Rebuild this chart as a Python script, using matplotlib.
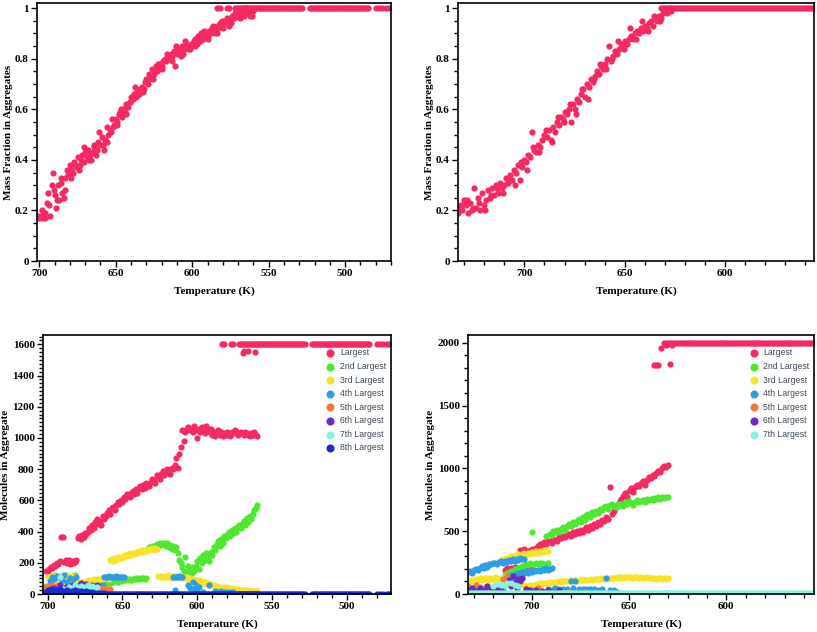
import matplotlib
matplotlib.use('Agg')
import matplotlib.pyplot as plt
from matplotlib.ticker import MultipleLocator, FuncFormatter

plt.rcParams['font.family'] = 'Liberation Serif'
plt.rcParams['font.weight'] = 'bold'
plt.rcParams['axes.labelweight'] = 'bold'

# цвета серий
c_largest = '#f52a60'
c_2nd = '#4de82f'
c_3rd = '#f9e326'
c_4th = '#2f9de6'
c_5th = '#f47a3a'
c_6th = '#6a2cbf'
c_7th = '#88f4de'
c_8th = '#1a2ccf'

# ---------------- симуляция 1 (1600 молекул) ----------------
sim1_temp = [
    701, 700, 699, 698, 697, 696, 695, 694, 693, 692,
    691, 690, 689, 688, 687, 686, 685, 684, 683, 682,
    681, 680, 679, 678, 677, 676, 675, 674, 673, 672,
    671, 670, 669, 668, 667, 666, 665, 664, 663, 662,
    661, 660, 659, 658, 657, 656, 655, 654, 653, 652,
    651, 650, 649, 648, 647, 646, 645, 644, 643, 642,
    641, 640, 639, 638, 637, 636, 635, 634, 633, 632,
    631, 630, 629, 628, 627, 626, 625, 624, 623, 622,
    621, 620, 619, 618, 617, 616, 615, 614, 613, 612,
    611, 610, 609, 608, 607, 606, 605, 604, 603, 602,
    601, 600, 599, 598, 597, 596, 595, 594, 593, 592,
    591, 590, 589, 588, 587, 586, 585, 584, 583, 582,
    581, 580, 579, 578, 577, 576, 575, 574, 573, 572,
    571, 570, 569, 568, 567, 566, 565, 564, 563, 562,
    561, 560]

sim1_sat_temp = [
    583.5, 582, 577.5, 576,
    572, 571, 570, 569, 568, 567, 566, 565, 564, 563,
    562, 561, 560, 559, 558, 557, 556, 555, 554, 553,
    552, 551, 550, 549, 548, 547, 546, 545, 544, 543,
    542, 541, 540, 539, 538, 537, 536, 535, 534, 533,
    532, 531, 530, 529, 528,
    523, 522, 521, 520, 519, 518, 517, 516, 515, 514,
    513, 512, 511, 510, 509, 508, 507, 506, 505, 504,
    503, 502, 501, 500, 499, 498, 497, 496, 495, 494,
    493, 492, 491, 490, 489, 488, 487, 486, 485,
    480, 478, 476, 473, 471.5]

tl_frac = [
    0.18, 0.17, 0.18, 0.17, 0.19, 0.17, 0.23, 0.27, 0.18, 0.30,
    0.35, 0.26, 0.21, 0.30, 0.24, 0.33, 0.27, 0.25, 0.28, 0.36,
    0.34, 0.38, 0.36, 0.35, 0.39, 0.37, 0.41, 0.36, 0.40, 0.42,
    0.39, 0.43, 0.41, 0.44, 0.42, 0.40, 0.43, 0.45, 0.42, 0.44,
    0.51, 0.46, 0.49, 0.44, 0.48, 0.47, 0.50, 0.52, 0.51, 0.53,
    0.54, 0.56, 0.55, 0.58, 0.59, 0.57, 0.60, 0.59, 0.62, 0.61,
    0.63, 0.65, 0.64, 0.66, 0.65, 0.67, 0.66, 0.68, 0.69, 0.67,
    0.71, 0.72, 0.70, 0.74, 0.73, 0.76, 0.74, 0.77, 0.75, 0.76,
    0.78, 0.77, 0.79, 0.80, 0.79, 0.81, 0.80, 0.82, 0.81, 0.83,
    0.77, 0.82, 0.84, 0.83, 0.85, 0.82, 0.84, 0.86, 0.85, 0.84,
    0.86, 0.85, 0.87, 0.88, 0.86, 0.89, 0.87, 0.90, 0.88, 0.89,
    0.90, 0.89, 0.91, 0.90, 0.92, 0.91, 0.90, 0.93, 0.92, 0.94,
    0.93, 0.92, 0.95, 0.94, 0.96, 0.93, 0.95, 0.97, 0.96, 0.98,
    0.97, 0.99, 0.96, 0.98, 0.99, 0.97, 0.98, 1.00, 0.99, 0.98,
    0.97, 0.99]

# дополнительные точки (разброс полосы)
tl_extra_temp = [698.5, 696.5, 693.5, 690.5, 688.5, 685.5, 683.5, 679.5, 676.5, 673.5,
                 670.5, 667.5, 664.5, 661.5, 658.5, 655.5, 652.5, 649.5, 646.5, 643.5,
                 640.5, 637.5, 634.5, 631.5, 628.5, 625.5, 622.5, 619.5, 616.5, 613.5,
                 610.5, 607.5, 604.5, 601.5, 598.5, 595.5, 592.5, 589.5, 586.5, 583.5,
                 580.5, 577.5, 574.5, 571.5, 568.5, 565.5, 562.5]
tl_extra_frac = [0.20, 0.19, 0.22, 0.28, 0.24, 0.31, 0.33, 0.33, 0.38, 0.38,
                 0.45, 0.40, 0.46, 0.47, 0.46, 0.53, 0.56, 0.54, 0.60, 0.58,
                 0.63, 0.69, 0.66, 0.68, 0.72, 0.72, 0.78, 0.76, 0.82, 0.79,
                 0.85, 0.81, 0.87, 0.84, 0.85, 0.88, 0.91, 0.88, 0.93, 0.90,
                 0.95, 0.94, 0.94, 0.98, 0.97, 1.00, 0.97]

tl_sat_frac = [
    1, 1, 1, 1,
    1, 1, 1, 1, 1, 1, 1, 1, 1, 1,
    1, 1, 1, 1, 1, 1, 1, 1, 1, 1,
    1, 1, 1, 1, 1, 1, 1, 1, 1, 1,
    1, 1, 1, 1, 1, 1, 1, 1, 1, 1,
    1, 1, 1, 1, 1,
    1, 1, 1, 1, 1, 1, 1, 1, 1, 1,
    1, 1, 1, 1, 1, 1, 1, 1, 1, 1,
    1, 1, 1, 1, 1, 1, 1, 1, 1, 1,
    1, 1, 1, 1, 1, 1, 1, 1, 1,
    1, 1, 1, 1, 1]

bl_largest = [
    150, 145, 160, 170, 165, 185, 180, 200, 195, 210,
    365, 368, 205, 220, 200, 215, 190, 210, 200, 205,
    220, 360, 370, 355, 380, 365, 390, 385, 400, 420,
    410, 440, 420, 460, 480, 450, 470, 440, 500, 480,
    500, 520, 540, 510, 550, 560, 540, 570, 590, 580,
    600, 590, 620, 610, 640, 630, 620, 650, 660, 640,
    670, 650, 680, 690, 670, 700, 680, 710, 700, 690,
    720, 740, 730, 710, 760, 750, 740, 770, 790, 760,
    780, 800, 790, 770, 810, 800, 830, 870, 810, 900,
    940, 1050, 980, 1040, 1060, 1070, 1050, 1060, 1040, 1080,
    1050, 1000, 1060, 1040, 1070, 1050, 1030, 1080, 1060, 1040,
    1060, 1020, 1040, 1010, 1030, 1050, 1020, 1040, 1010, 1030,
    1020, 1040, 1030, 1010, 1040, 1030, 1050, 1040, 1020, 1030,
    1040, 1030, 1020, 1040, 1030, 1020, 1010, 1030, 1020, 1040,
    1020, 1015]

bl_sat_largest = [
    1600, 1600, 1600, 1600,
    1600, 1600, 1600, 1600, 1600, 1600, 1600, 1600, 1600, 1600,
    1600, 1600, 1600, 1600, 1600, 1600, 1600, 1600, 1600, 1600,
    1600, 1600, 1600, 1600, 1600, 1600, 1600, 1600, 1600, 1600,
    1600, 1600, 1600, 1600, 1600, 1600, 1600, 1600, 1600, 1600,
    1600, 1600, 1600, 1600, 1600,
    1600, 1600, 1600, 1600, 1600, 1600, 1600, 1600, 1600, 1600,
    1600, 1600, 1600, 1600, 1600, 1600, 1600, 1600, 1600, 1600,
    1600, 1600, 1600, 1600, 1600, 1600, 1600, 1600, 1600, 1600,
    1600, 1600, 1600, 1600, 1600, 1600, 1600, 1600, 1600,
    1600, 1600, 1600, 1600, 1600]

bl_dip_temp = [569.5, 568.5, 566, 561.5]
bl_dip_largest = [1545, 1555, 1560, 1550]

bl_2nd = [
    50, 45, 110, 60, 115, 55, 120, 50, 60, 110,
    55, 105, 60, 120, 65, 110, 55, 115, 60, 120,
    55, 60, 50, 62, 55, 58, 52, 60, 55, 63,
    58, 62, 55, 65, 60, 58, 64, 60, 66, 62,
    68, 70, 75, 72, 80, 78, 82, 85, 80, 88,
    85, 90, 88, 92, 95, 90, 96, 93, 98, 95,
    100, 95, 102, 98, 100, 104, 97, 100, 290, 300,
    295, 305, 310, 300, 320, 310, 325, 315, 330, 320,
    310, 325, 300, 315, 290, 305, 280, 300, 260, 220,
    200, 170, 150, 240, 140, 180, 160, 130, 170, 150,
    180, 210, 160, 230, 200, 250, 220, 260, 240, 210,
    270, 250, 300, 280, 320, 340, 310, 350, 330, 370,
    360, 380, 400, 370, 410, 390, 420, 400, 430, 440,
    420, 450, 470, 440, 490, 460, 500, 480, 510, 540,
    550, 570]

bl_3rd = [
    40, 110, 45, 115, 50, 120, 55, 105, 60, 118,
    50, 112, 55, 120, 60, 100, 65, 115, 70, 110,
    65, 70, 75, 68, 80, 72, 78, 85, 80, 88,
    85, 90, 95, 88, 92, 98, 95, 100, 96, 102,
    100, 105, 98, 215, 225, 210, 230, 220, 235, 228,
    240, 232, 245, 250, 242, 255, 260, 250, 265, 258,
    270, 262, 275, 268, 280, 272, 285, 278, 290, 282,
    288, 292, 285, 295, 290, 115, 108, 118, 112, 110,
    115, 108, 120, 112, 105, 118, 110, 115, 108, 112,
    118, 105, 110, 100, 108, 95, 102, 90, 98, 85,
    92, 80, 88, 75, 82, 70, 78, 65, 72, 60,
    62, 55, 58, 50, 52, 45, 48, 40, 44, 38,
    42, 35, 38, 30, 36, 28, 32, 26, 30, 25,
    28, 22, 26, 20, 24, 22, 18, 22, 20, 18,
    20, 18]

bl_4th_temp = [698.5, 697, 695.5, 694, 692, 690.5, 689, 687, 685, 683,
               681, 679, 677, 675, 673, 671, 669, 667, 665, 663,
               662, 661, 660, 659, 658, 657, 656, 655, 654, 653,
               652, 651, 650, 649, 616, 615, 614, 613, 612, 611,
               610, 614.5, 606, 604.5, 603, 602, 601, 600, 598.5, 596,
               592, 588, 586, 584, 582, 580, 578, 576]
bl_4th = [85, 110, 95, 115, 100, 90, 120, 80, 105, 95,
          110, 60, 45, 55, 40, 50, 35, 45, 50, 55,
          108, 112, 110, 115, 110, 112, 108, 110, 114, 110,
          108, 112, 110, 106, 110, 112, 108, 110, 114, 110,
          108, 25, 60, 40, 75, 30, 55, 20, 45, 15,
          55, 20, 15, 18, 12, 15, 10, 12]

bl_5th_temp = [702, 701, 700, 699, 698, 697, 696, 695, 694, 693,
               692, 690, 688, 686, 684, 682, 680, 678, 676, 674,
               672, 670, 668, 666, 664, 662, 660, 658]
bl_5th = [40, 25, 50, 35, 20, 60, 30, 45, 25, 55,
          110, 35, 40, 25, 50, 30, 45, 35, 55, 40,
          30, 50, 35, 45, 30, 40, 35, 30]

bl_6th_temp = [698, 696, 694, 692, 690, 688, 686, 684, 682, 680,
               678, 676, 674, 672, 670, 668, 667]
bl_6th = [25, 40, 20, 55, 30, 45, 25, 60, 35, 50,
          70, 40, 65, 30, 55, 45, 60]

bl_7th_temp = [694, 692, 690, 688, 686, 684, 682, 680, 679, 678,
               677, 676, 675, 674, 673, 672, 671, 670, 668, 667]
bl_7th = [20, 110, 35, 25, 45, 30, 55, 40, 25, 50,
          35, 20, 45, 30, 55, 40, 25, 50, 30, 45]

bl_8th = [
    10, 25, 5, 30, 15, 20, 8, 25, 12, 30,
    18, 5, 22, 10, 28, 15, 6, 20, 12, 25,
    8, 18, 4, 22, 10, 15, 5, 20, 8, 12,
    4, 10, 3, 8, 2, 6, 3, 5, 2, 4,
    2, 3, 1, 2, 3, 2, 1, 2, 3, 2,
    2, 3, 1, 2, 3, 2, 1, 2, 3, 2,
    2, 3, 1, 2, 3, 2, 1, 2, 3, 2,
    2, 3, 1, 2, 3, 2, 1, 2, 3, 2,
    2, 3, 1, 2, 3, 2, 1, 2, 3, 2,
    2, 3, 1, 2, 3, 2, 1, 2, 3, 2,
    2, 3, 1, 2, 3, 2, 1, 2, 3, 2,
    2, 3, 1, 2, 3, 2, 1, 2, 3, 2,
    2, 3, 1, 2, 3, 2, 1, 2, 3, 2,
    2, 3, 1, 2, 3, 2, 1, 2, 3, 2,
    2, 3]

bl_sat_8th = [
    0, 0, 0, 0,
    0, 0, 0, 0, 0, 0, 0, 0, 0, 0,
    0, 0, 0, 0, 0, 0, 0, 0, 0, 0,
    0, 0, 0, 0, 0, 0, 0, 0, 0, 0,
    0, 0, 0, 0, 0, 0, 0, 0, 0, 0,
    0, 0, 0, 0, 0,
    0, 0, 0, 0, 0, 0, 0, 0, 0, 0,
    0, 0, 0, 0, 0, 0, 0, 0, 0, 0,
    0, 0, 0, 0, 0, 0, 0, 0, 0, 0,
    0, 0, 0, 0, 0, 0, 0, 0, 0,
    0, 0, 0, 0, 0]

# ---------------- симуляция 2 (2000 молекул) ----------------
sim2_temp = [
    733, 732, 731, 730, 729, 728, 727, 726, 725, 724,
    723, 722, 721, 720, 719, 718, 717, 716, 715, 714,
    713, 712, 711, 710, 709, 708, 707, 706, 705, 704,
    703, 702, 701, 700, 699, 698, 697, 696, 695, 694,
    693, 692, 691, 690, 689, 688, 687, 686, 685, 684,
    683, 682, 681, 680, 679, 678, 677, 676, 675, 674,
    673, 672, 671, 670, 669, 668, 667, 666, 665, 664,
    663, 662, 661, 660, 659, 658, 657, 656, 655, 654,
    653, 652, 651, 650, 649, 648, 647, 646, 645, 644,
    643, 642, 641, 640, 639, 638, 637, 636, 635, 634,
    633, 632, 631, 630, 629, 628, 627]

sim2_sat_temp = [
    632, 631, 630, 629, 628, 627, 626, 625, 624, 623,
    622, 621, 620, 619, 618, 617, 616, 615, 614, 613,
    612, 611, 610, 609, 608, 607, 606, 605, 604, 603,
    602, 601, 600, 599, 598, 597, 596, 595, 594, 593,
    592, 591, 590, 589, 588, 587, 586, 585, 584, 583,
    582, 581, 580, 579, 578, 577, 576, 575, 574, 573,
    572, 571, 570, 569, 568, 567, 566, 565, 564, 563,
    562, 561, 560, 559, 558, 557, 556]

tr_frac = [
    0.19, 0.21, 0.20, 0.24, 0.22, 0.19, 0.23, 0.20, 0.29, 0.21,
    0.25, 0.20, 0.27, 0.22, 0.24, 0.28, 0.25, 0.29, 0.26, 0.30,
    0.27, 0.31, 0.29, 0.30, 0.33, 0.31, 0.34, 0.32, 0.36, 0.35,
    0.38, 0.32, 0.37, 0.40, 0.39, 0.42, 0.41, 0.51, 0.44, 0.43,
    0.46, 0.45, 0.48, 0.50, 0.49, 0.52, 0.48, 0.53, 0.51, 0.55,
    0.54, 0.57, 0.56, 0.59, 0.58, 0.60, 0.55, 0.62, 0.60, 0.64,
    0.63, 0.66, 0.68, 0.65, 0.70, 0.69, 0.72, 0.71, 0.73, 0.75,
    0.74, 0.77, 0.76, 0.78, 0.80, 0.85, 0.79, 0.81, 0.83, 0.82,
    0.84, 0.86, 0.85, 0.87, 0.86, 0.88, 0.89, 0.88, 0.90, 0.91,
    0.90, 0.92, 0.91, 0.93, 0.92, 0.94, 0.95, 0.93, 0.96, 0.95,
    0.97, 0.96, 0.98, 0.99, 0.98, 1.00, 0.99]

tr_extra_temp = [731.5, 728.5, 725.5, 722.5, 719.5, 716.5, 713.5, 710.5, 707.5, 704.5,
                 701.5, 698.5, 695.5, 692.5, 689.5, 686.5, 683.5, 680.5, 677.5, 674.5,
                 671.5, 668.5, 665.5, 662.5, 659.5, 656.5, 653.5, 650.5, 647.5, 644.5,
                 641.5, 638.5, 635.5, 632.5, 629.5]
tr_extra_frac = [0.22, 0.24, 0.21, 0.23, 0.20, 0.26, 0.29, 0.27, 0.32, 0.30,
                 0.39, 0.36, 0.45, 0.43, 0.52, 0.47, 0.57, 0.55, 0.62, 0.58,
                 0.68, 0.64, 0.72, 0.78, 0.76, 0.80, 0.87, 0.84, 0.92, 0.88,
                 0.95, 0.91, 0.97, 0.95, 0.99]

tr_sat_frac = [
    1, 1, 1, 1, 1, 1, 1, 1, 1, 1,
    1, 1, 1, 1, 1, 1, 1, 1, 1, 1,
    1, 1, 1, 1, 1, 1, 1, 1, 1, 1,
    1, 1, 1, 1, 1, 1, 1, 1, 1, 1,
    1, 1, 1, 1, 1, 1, 1, 1, 1, 1,
    1, 1, 1, 1, 1, 1, 1, 1, 1, 1,
    1, 1, 1, 1, 1, 1, 1, 1, 1, 1,
    1, 1, 1, 1, 1, 1, 1]

br_main_temp = [
    714, 713, 712, 711, 710, 709, 708, 707, 706, 705,
    704, 703, 702, 701, 700, 699, 698, 697, 696, 695,
    694, 693, 692, 691, 690, 689, 688, 687, 686, 685,
    684, 683, 682, 681, 680, 679, 678, 677, 676, 675,
    674, 673, 672, 671, 670, 669, 668, 667, 666, 665,
    664, 663, 662, 661, 660, 659, 658, 657, 656, 655,
    654, 653, 652, 651, 650, 649, 648, 647, 646, 645,
    644, 643, 642, 641, 640, 639, 638, 637, 636, 635,
    634, 633, 632, 631, 630]

br_largest = [
    195, 205, 200, 210, 198, 215, 205, 200, 350, 210,
    355, 205, 345, 200, 360, 352, 370, 385, 395, 380,
    410, 400, 425, 415, 405, 440, 430, 420, 450, 445,
    460, 455, 470, 480, 465, 490, 475, 500, 485, 510,
    495, 520, 530, 510, 540, 525, 555, 545, 570, 560,
    590, 580, 610, 600, 855, 640, 660, 690, 720, 740,
    760, 780, 800, 770, 820, 840, 810, 850, 870, 860,
    880, 900, 870, 910, 930, 920, 950, 940, 960, 980,
    970, 1000, 1020, 1010, 1030]

br_top_temp = [637, 636, 635, 633.5, 631, 630, 629, 628]
br_top_largest = [1820, 1825, 1820, 1960, 1980, 1990, 1830, 1985]

br_sat_largest = [
    2000, 2000, 2000, 2000, 2000, 2000, 2000, 2000, 2000, 2000,
    2000, 2000, 2000, 2000, 2000, 2000, 2000, 2000, 2000, 2000,
    2000, 2000, 2000, 2000, 2000, 2000, 2000, 2000, 2000, 2000,
    2000, 2000, 2000, 2000, 2000, 2000, 2000, 2000, 2000, 2000,
    2000, 2000, 2000, 2000, 2000, 2000, 2000, 2000, 2000, 2000,
    2000, 2000, 2000, 2000, 2000, 2000, 2000, 2000, 2000, 2000,
    2000, 2000, 2000, 2000, 2000, 2000, 2000, 2000, 2000, 2000,
    2000, 2000, 2000, 2000, 2000, 2000, 2000]

br_2nd = [
    150, 170, 160, 185, 175, 200, 190, 210, 205, 225,
    220, 235, 230, 245, 490, 240, 250, 235, 245, 250,
    240, 460, 250, 480, 470, 500, 490, 510, 495, 520,
    530, 510, 545, 560, 540, 575, 555, 580, 600, 570,
    610, 590, 625, 640, 615, 650, 635, 660, 645, 680,
    665, 690, 700, 680, 710, 720, 700, 690, 715, 705,
    720, 700, 730, 715, 740, 725, 710, 735, 745, 730,
    740, 750, 735, 755, 745, 760, 750, 765, 755, 770,
    760, 775, 765, 770, 775]

br_2nd_low_temp = [733, 730, 727, 724, 721, 718]
br_2nd_low = [20, 35, 15, 30, 25, 40]

br_3rd_upper_temp = [716, 715, 714, 713, 712, 711, 710, 709, 708, 707,
                     706, 705, 704, 703, 702, 701, 700, 699, 698, 697,
                     696, 695, 694, 693, 692]
br_3rd_upper = [270, 280, 275, 290, 285, 300, 295, 310, 305, 320,
                300, 315, 325, 310, 330, 320, 335, 325, 340, 330,
                345, 335, 350, 340, 345]

br_3rd_lower_temp = [
    733, 732, 731, 730, 729, 728, 727, 726, 725, 724,
    723, 722, 721, 720, 719, 718, 717, 716, 715, 714,
    713, 712, 711, 710, 709, 708, 707, 706, 705, 704,
    703, 702, 701, 700, 699, 698, 697, 696, 695, 694,
    693, 692, 691, 690, 689, 688, 687, 686, 685, 684,
    683, 682, 681, 680, 679, 678, 677, 676, 675, 674,
    673, 672, 671, 670, 669, 668, 667, 666, 665, 664,
    663, 662, 661, 660, 659, 658, 657, 656, 655, 654,
    653, 652, 651, 650, 649, 648, 647, 646, 645, 644,
    643, 642, 641, 640, 639, 638, 637, 636, 635, 634,
    633, 632, 631, 630]
br_3rd_lower = [
    100, 110, 105, 115, 120, 110, 125, 115, 130, 120,
    125, 115, 130, 120, 135, 125, 120, 130, 125, 135,
    120, 130, 115, 125, 110, 120, 105, 90, 80, 70,
    65, 60, 70, 65, 75, 80, 75, 85, 80, 90,
    85, 90, 95, 88, 92, 98, 95, 100, 97, 102,
    100, 105, 102, 108, 104, 110, 106, 112, 108, 114,
    110, 115, 112, 118, 114, 120, 116, 122, 118, 124,
    120, 126, 122, 128, 124, 130, 126, 132, 128, 134,
    130, 136, 132, 138, 134, 130, 136, 132, 128, 134,
    130, 126, 132, 128, 124, 130, 126, 122, 128, 124,
    120, 126, 122, 128]

br_4th_upper_temp = [733, 732, 731, 730, 729, 728, 727, 726, 725, 724,
                     723, 722, 721, 720, 719, 718, 717, 716, 715, 714,
                     713, 712, 711, 710, 709, 708, 707, 706, 705, 704]
br_4th_upper = [175, 185, 170, 195, 200, 190, 210, 225, 205, 230,
                215, 240, 235, 250, 245, 240, 255, 260, 250, 265,
                255, 270, 260, 275, 265, 280, 270, 285, 275, 280]

br_4th_mid_temp = [712, 711, 710, 709, 708, 707, 706, 705, 704, 703,
                   702, 701, 700, 699, 698, 697, 696, 695, 694, 693,
                   692, 691, 690]
br_4th_mid = [140, 150, 135, 160, 150, 170, 160, 175, 165, 180,
              170, 185, 175, 190, 180, 195, 185, 200, 190, 205,
              195, 200, 210]

br_4th_low_temp = [692, 690, 688, 686, 684, 682, 680, 679, 678, 676,
                   674, 672, 670, 668, 666, 664, 662, 660, 658, 656.5]
br_4th_low = [40, 35, 45, 38, 42, 36, 100, 44, 100, 40,
              38, 42, 36, 40, 34, 38, 127, 32, 30, 20]

br_5th_temp = [733, 731, 729, 727, 725, 723, 721, 719, 717, 715,
               713, 711, 709, 707, 705, 703, 701, 699, 697, 695,
               681.5, 673]
br_5th = [60, 45, 70, 55, 40, 65, 50, 60, 45, 120,
          140, 100, 80, 60, 125, 40, 35, 30, 45, 25,
          20, 20]

br_6th_temp = [733, 731, 729, 727, 725, 723, 721, 719, 717, 715,
               713, 712, 711, 710, 709, 708, 707, 706, 705, 703,
               701, 698, 695, 692, 689, 686]
br_6th = [30, 45, 25, 50, 35, 60, 40, 55, 30, 45,
          90, 110, 60, 140, 95, 50, 120, 100, 130, 40,
          30, 35, 25, 30, 20, 30]

br_7th_temp = [720, 718, 716, 714, 713, 711, 709, 707]
br_7th = [60, 80, 70, 65, 85, 90, 75, 65]

br_7th_base = [
    8, 10, 6, 9, 7, 10, 8, 6, 9, 8,
    10, 7, 8, 9, 6, 10, 8, 7, 9, 8,
    6, 10, 8, 9, 7, 8, 10, 6, 9, 8,
    7, 9, 8, 10, 6, 8, 9, 7, 10, 8,
    8, 6, 9, 8, 10, 7, 8, 9, 6, 8,
    10, 8, 7, 9, 8, 6, 10, 8, 9, 7,
    8, 9, 6, 8, 10, 7, 9, 8, 6, 10,
    8, 7, 9, 8, 10, 6, 8, 9, 7, 8,
    10, 8, 6, 9, 8, 7, 10, 8, 9, 6,
    8, 10, 7, 9, 8, 6, 9, 8, 10, 7,
    8, 9, 6, 8, 10, 7, 8]

br_7th_sat = [
    8, 8, 8, 8, 8, 8, 8, 8, 8, 8,
    8, 8, 8, 8, 8, 8, 8, 8, 8, 8,
    8, 8, 8, 8, 8, 8, 8, 8, 8, 8,
    8, 8, 8, 8, 8, 8, 8, 8, 8, 8,
    8, 8, 8, 8, 8, 8, 8, 8, 8, 8,
    8, 8, 8, 8, 8, 8, 8, 8, 8, 8,
    8, 8, 8, 8, 8, 8, 8, 8, 8, 8,
    8, 8, 8, 8, 8, 8, 8]

# ---------------- фигура ----------------
fig = plt.figure(figsize=(8.17, 6.32), dpi=100)
ax_tl = fig.add_axes([0.0453, 0.587, 0.4333, 0.408])
ax_tr = fig.add_axes([0.5606, 0.587, 0.4357, 0.408])
ax_bl = fig.add_axes([0.0526, 0.0601, 0.4260, 0.4098])
ax_br = fig.add_axes([0.5728, 0.0601, 0.4235, 0.4098])

S = 20


def dots(ax, x, y, color, label=None):
    return ax.scatter(x, y, s=S, c=color, linewidths=0, label=label)


def style(ax, xlim, ylim, ymajor, yminor, ylabel):
    ax.set_xlim(*xlim)
    ax.set_ylim(*ylim)
    ax.xaxis.set_major_locator(MultipleLocator(50))
    ax.xaxis.set_minor_locator(MultipleLocator(10))
    ax.yaxis.set_major_locator(MultipleLocator(ymajor))
    ax.yaxis.set_minor_locator(MultipleLocator(yminor))
    ax.yaxis.set_major_formatter(FuncFormatter(lambda v, p: '%g' % v))
    ax.tick_params(which='both', direction='out', top=False, right=False,
                   width=1.0, labelsize=8, pad=2)
    ax.tick_params(which='major', length=4)
    ax.tick_params(which='minor', length=3)
    for s in ax.spines.values():
        s.set_linewidth(1.2)
    ax.set_xlabel('Temperature (K)', fontsize=8, labelpad=6)
    ax.set_ylabel(ylabel, fontsize=8, labelpad=1.5)


# верхний левый
dots(ax_tl, sim1_temp, tl_frac, c_largest)
dots(ax_tl, tl_extra_temp, tl_extra_frac, c_largest)
dots(ax_tl, sim1_sat_temp, tl_sat_frac, c_largest)
style(ax_tl, (701.5, 470), (0, 1.02), 0.2, 0.05, 'Mass Fraction in Aggregates')

# верхний правый
dots(ax_tr, sim2_temp, tr_frac, c_largest)
dots(ax_tr, tr_extra_temp, tr_extra_frac, c_largest)
dots(ax_tr, sim2_sat_temp, tr_sat_frac, c_largest)
style(ax_tr, (733.2, 555.4), (0, 1.02), 0.2, 0.05, 'Mass Fraction in Aggregates')

# нижний левый
h = []
h.append(dots(ax_bl, sim1_temp, bl_largest, c_largest, 'Largest'))
dots(ax_bl, sim1_sat_temp, bl_sat_largest, c_largest)
dots(ax_bl, bl_dip_temp, bl_dip_largest, c_largest)
h.append(dots(ax_bl, sim1_temp, bl_2nd, c_2nd, '2nd Largest'))
h.append(dots(ax_bl, sim1_temp, bl_3rd, c_3rd, '3rd Largest'))
h.append(dots(ax_bl, bl_4th_temp, bl_4th, c_4th, '4th Largest'))
h.append(dots(ax_bl, bl_5th_temp, bl_5th, c_5th, '5th Largest'))
h.append(dots(ax_bl, bl_6th_temp, bl_6th, c_6th, '6th Largest'))
h.append(dots(ax_bl, bl_7th_temp, bl_7th, c_7th, '7th Largest'))
h.append(dots(ax_bl, sim1_temp, bl_8th, c_8th, '8th Largest'))
dots(ax_bl, sim1_sat_temp, bl_sat_8th, c_8th)
style(ax_bl, (703.1, 470.4), (0, 1660), 200, 25, 'Molecules in Aggregate')

# нижний правый
h2 = []
h2.append(dots(ax_br, br_main_temp, br_largest, c_largest, 'Largest'))
dots(ax_br, br_top_temp, br_top_largest, c_largest)
dots(ax_br, sim2_sat_temp, br_sat_largest, c_largest)
h2.append(dots(ax_br, br_main_temp, br_2nd, c_2nd, '2nd Largest'))
dots(ax_br, br_2nd_low_temp, br_2nd_low, c_2nd)
h2.append(dots(ax_br, br_3rd_lower_temp, br_3rd_lower, c_3rd, '3rd Largest'))
dots(ax_br, br_3rd_upper_temp, br_3rd_upper, c_3rd)
h2.append(dots(ax_br, br_4th_upper_temp, br_4th_upper, c_4th, '4th Largest'))
dots(ax_br, br_4th_mid_temp, br_4th_mid, c_4th)
dots(ax_br, br_4th_low_temp, br_4th_low, c_4th)
h2.append(dots(ax_br, br_5th_temp, br_5th, c_5th, '5th Largest'))
h2.append(dots(ax_br, br_6th_temp, br_6th, c_6th, '6th Largest'))
h2.append(dots(ax_br, br_7th_temp, br_7th, c_7th, '7th Largest'))
dots(ax_br, sim2_temp, br_7th_base, c_7th)
dots(ax_br, sim2_sat_temp, br_7th_sat, c_7th)
style(ax_br, (733, 554.9), (0, 2061), 500, 100, 'Molecules in Aggregate')

leg_kw = dict(loc='upper left', frameon=False, borderpad=0, borderaxespad=0,
              handlelength=0.9, handletextpad=0.65, labelspacing=0.53,
              markerscale=1.3, prop={'family': 'Liberation Sans', 'size': 6.2,
                                     'weight': 'normal'},
              labelcolor='#3d4a58')
ax_bl.legend(handles=h, bbox_to_anchor=(0.8144, 0.948), **leg_kw)
ax_br.legend(handles=h2, bbox_to_anchor=(0.815, 0.948), **leg_kw)

plt.savefig('out.png', dpi=100)
